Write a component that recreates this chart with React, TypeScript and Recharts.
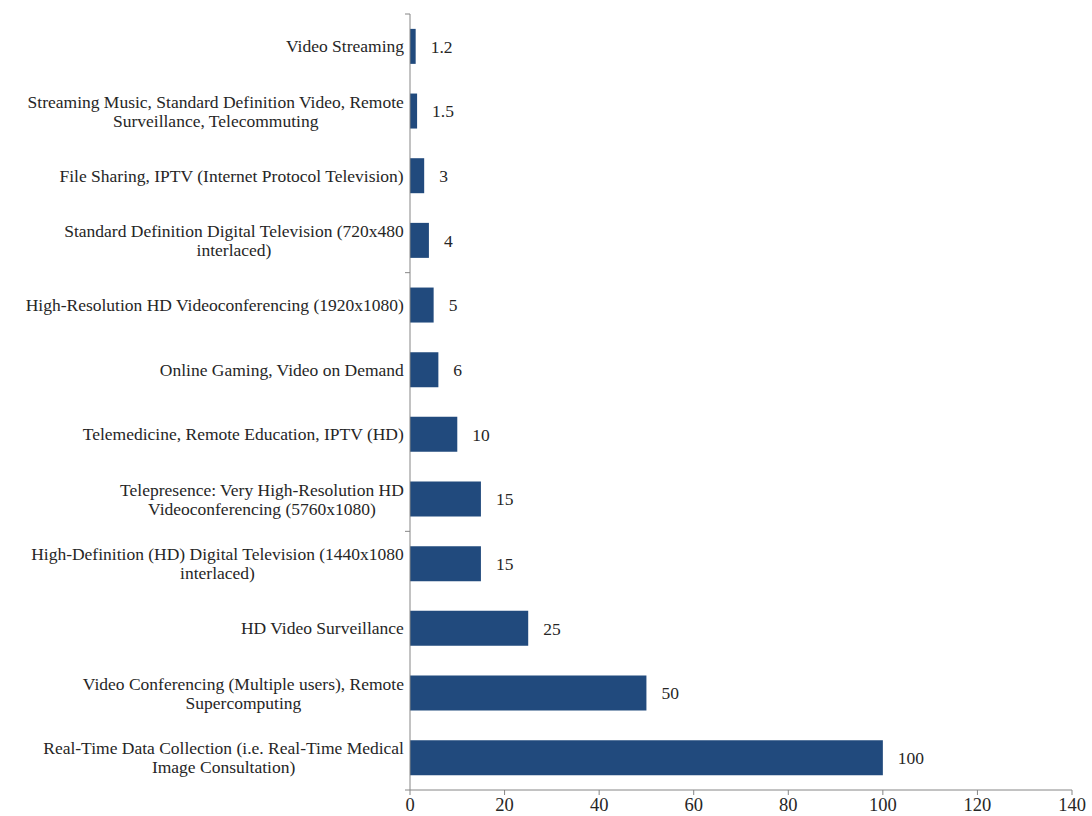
import { BarChart, Bar, XAxis, YAxis, LabelList } from "recharts"

const categories = [
  "Video Streaming",
  "Streaming Music, Standard Definition Video, Remote\nSurveillance, Telecommuting",
  "File Sharing, IPTV (Internet Protocol Television)",
  "Standard Definition Digital Television (720x480\ninterlaced)",
  "High-Resolution HD Videoconferencing (1920x1080)",
  "Online Gaming, Video on Demand",
  "Telemedicine, Remote Education, IPTV (HD)",
  "Telepresence: Very High-Resolution HD\nVideoconferencing (5760x1080)",
  "High-Definition (HD) Digital Television (1440x1080\ninterlaced)",
  "HD Video Surveillance",
  "Video Conferencing (Multiple users), Remote\nSupercomputing",
  "Real-Time Data Collection (i.e. Real-Time Medical\nImage Consultation)",
]
const speeds = [1.2, 1.5, 3, 4, 5, 6, 10, 15, 15, 25, 50, 100]
const xTicks = [0, 20, 40, 60, 80, 100, 120, 140]
// y axis tick marks only every 4 categories
const tickEvery = 4

const data = categories.map((name, i) => ({ name, value: speeds[i] }))

const FONT = "'Liberation Serif', 'DejaVu Serif', serif"
const TEXT = "#262626"
const AXIS = "#868686"
const BAR = "#214a7d"
const FS = 17.5

const W = 1092
const H = 816
const M = { top: 14, right: 20, bottom: 0, left: 0 }
const X_AXIS_H = 26
const band = (H - M.top - M.bottom - X_AXIS_H) / categories.length

let ctx: CanvasRenderingContext2D | null = null
function measure(s: string) {
  if (!ctx) ctx = document.createElement("canvas").getContext("2d")
  if (!ctx) return s.length * 7.5
  ctx.font = `${FS}px ${FONT}`
  return ctx.measureText(s).width
}

function CategoryTick(props: any) {
  const { x, y, payload, index } = props
  const lines = String(payload.value).split("\n")
  const w = Math.max(...lines.map(measure))
  const cx = x + 2 - w / 2
  const lh = 19
  const y0 = y - ((lines.length - 1) * lh) / 2
  const ax = x + 8
  const marks: number[] = []
  if (index === 0) marks.push(y - band / 2)
  if ((index + 1) % tickEvery === 0) marks.push(y + band / 2)
  return (
    <g>
      {marks.map((my, i) => (
        <line key={i} x1={ax - 5} x2={ax} y1={my} y2={my} stroke={AXIS} />
      ))}
      <text textAnchor="middle" fontFamily={FONT} fontSize={FS} fill={TEXT}>
        {lines.map((l, i) => (
          <tspan key={i} x={cx} y={y0 + i * lh} dy="0.35em">{l}</tspan>
        ))}
      </text>
    </g>
  )
}

function NumberTick(props: any) {
  const { x, y, payload } = props
  return (
    <text x={x} y={y} dy="0.72em" textAnchor="middle" fontFamily={FONT} fontSize={18.5} fill={TEXT}>
      {payload.value}
    </text>
  )
}

export default function App() {
  return (
    <div style={{ position: "absolute", left: 0, top: 0, width: W, height: H, background: "#fff" }}>
      <BarChart
        width={W}
        height={H}
        data={data}
        layout="vertical"
        margin={M}
        barCategoryGap="23%"
      >
        <XAxis
          type="number"
          domain={[0, 140]}
          ticks={xTicks}
          height={X_AXIS_H}
          stroke={AXIS}
          tickSize={5}
          tickMargin={3}
          tick={<NumberTick />}
        />
        <YAxis
          type="category"
          dataKey="name"
          width={410}
          tickLine={false}
          stroke={AXIS}
          tick={<CategoryTick />}
          interval={0}
        />
        <Bar dataKey="value" fill={BAR} isAnimationActive={false}>
          <LabelList
            dataKey="value"
            position="right"
            offset={15}
            fill={TEXT}
            fontSize={FS}
            fontFamily={FONT}
          />
        </Bar>
      </BarChart>
    </div>
  )
}
